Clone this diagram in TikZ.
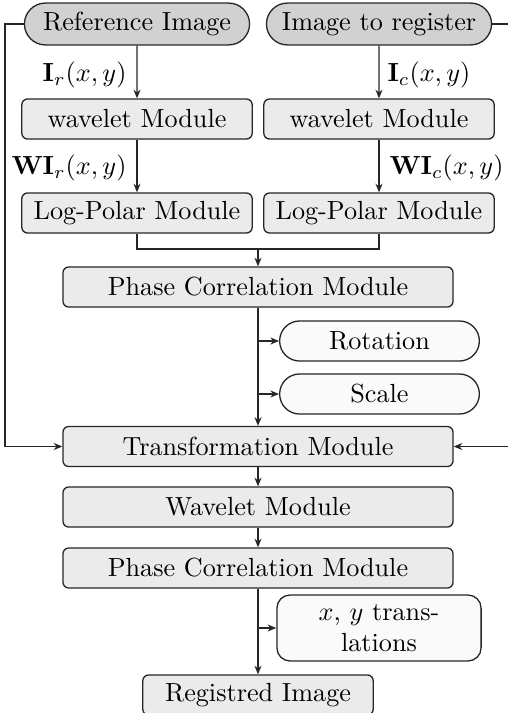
\documentclass[tikz,border=0pt]{standalone}
\usetikzlibrary{shapes.misc,arrows.meta}
\begin{document}
\begin{tikzpicture}[x=0.382pt,y=-0.382pt,
  every node/.style={font=\fontsize{10}{12}\selectfont},
  pill/.style={draw=black!85,rounded rectangle,fill=black!18,minimum width=88pt,minimum height=16pt,inner sep=1pt,line width=0.5pt},
  outpill/.style={draw=black!85,rounded rectangle,fill=black!2,minimum width=78.3pt,minimum height=15.3pt,inner sep=1pt,line width=0.5pt},
  modsmall/.style={draw=black!85,rounded corners=2.2pt,fill=black!8,minimum width=88pt,minimum height=15.3pt,inner sep=1pt,line width=0.5pt},
  modbig/.style={draw=black!85,rounded corners=2.2pt,fill=black!8,minimum width=149pt,minimum height=15.3pt,inner sep=1pt,line width=0.5pt},
  outbox/.style={draw=black!85,rounded corners=5pt,fill=black!2,minimum width=78pt,minimum height=25.2pt,inner sep=1pt,align=center,line width=0.5pt},
  conn/.style={draw=black!85,line width=0.45pt},
  arr/.style={conn,-{Stealth[length=3.3pt,width=2.7pt]}},
  lab/.style={inner sep=0pt}]
\useasboundingbox (0,0) rectangle (508,713);
\node[pill] (ref) at (137,24) {Reference Image};
\node[pill] (img) at (379,24) {Image to register};
\node[modsmall] (wl1) at (137,119) {wavelet Module};
\node[modsmall] (wl2) at (379,119) {wavelet Module};
\node[modsmall] (lp1) at (137,213) {Log-Polar Module};
\node[modsmall] (lp2) at (379,213) {Log-Polar Module};
\node[modbig] (pc1) at (258,287) {Phase Correlation Module};
\node[outpill] (rot) at (379.5,341) {Rotation};
\node[outpill] (sca) at (379.5,394) {Scale};
\node[modbig] (tm) at (258,446.5) {Transformation Module};
\node[modbig] (wm) at (258,507) {Wavelet Module};
\node[modbig] (pc2) at (258,568) {Phase Correlation Module};
\node[outbox] (xy) at (379,628) {$x$, $y$ trans-\\lations};
\node[modsmall] (reg) at (258,695) {Registred Image};
% labels
\node[lab,anchor=east] (lir) at (127,75) {$\mathbf{I}_r(x,y)$};
\node[lab,anchor=west] (lic) at (387,75) {$\mathbf{I}_c(x,y)$};
\node[lab,anchor=east] (lwr) at (127,168) {$\mathbf{WI}_r(x,y)$};
\node[lab,anchor=west] (lwc) at (389,168) {$\mathbf{WI}_c(x,y)$};
% coordinates
\coordinate (m1) at (137,249);
\coordinate (m2) at (379,249);
\coordinate (mm) at (258,249);
\coordinate (lt) at (5,24);
\coordinate (lb) at (5,446.5);
\coordinate (rt) at (509,24);
\coordinate (rb) at (509,446.5);
\coordinate (b1) at (258,341);
\coordinate (b2) at (258,394);
\coordinate (b3) at (258,628);
% connectors
\draw[arr] (ref) -- (wl1);
\draw[arr] (img) -- (wl2);
\draw[arr] (wl1) -- (lp1);
\draw[arr] (wl2) -- (lp2);
\draw[conn] (lp1.south) -- (m1) -- (m2) -- (lp2.south);
\draw[arr] (mm) -- (pc1.north);
\draw[arr] (pc1.south) -- (tm.north);
\draw[conn] (pc1.south) -- (b2);
\draw[arr] (b1) -- (rot.west);
\draw[arr] (b2) -- (sca.west);
\draw[arr] (ref.west) -- (lt) -- (lb) -- (tm.west);
\draw[arr] (img.east) -- (rt) -- (rb) -- (tm.east);
\draw[arr] (tm) -- (wm);
\draw[arr] (wm) -- (pc2);
\draw[arr] (pc2.south) -- (reg.north);
\draw[conn] (pc2.south) -- (b3);
\draw[arr] (b3) -- (xy.west);
\end{tikzpicture}
\end{document}
